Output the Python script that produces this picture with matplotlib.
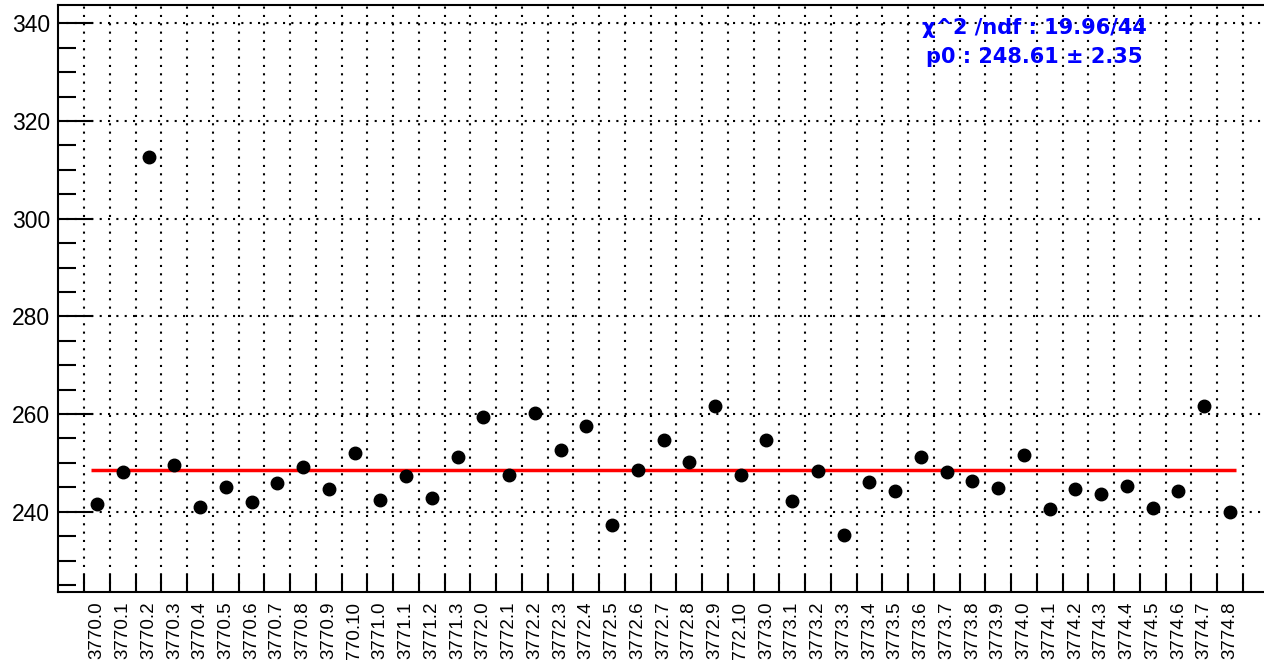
import matplotlib
matplotlib.use("Agg")
import matplotlib.pyplot as plt
import numpy as np

labels = ["3770.0", "3770.1", "3770.2", "3770.3", "3770.4", "3770.5", "3770.6", "3770.7",
          "3770.8", "3770.9", "3770.10", "3771.0", "3771.1", "3771.2", "3771.3",
          "3772.0", "3772.1", "3772.2", "3772.3", "3772.4", "3772.5", "3772.6", "3772.7",
          "3772.8", "3772.9", "3772.10", "3773.0", "3773.1", "3773.2", "3773.3", "3773.4",
          "3773.5", "3773.6", "3773.7", "3773.8", "3773.9", "3774.0", "3774.1", "3774.2",
          "3774.3", "3774.4", "3774.5", "3774.6", "3774.7", "3774.8"]
values = [241.6, 248.1, 312.6, 249.6, 241.0, 245.0, 242.0, 245.9, 249.1, 244.7, 252.0,
          242.4, 247.4, 242.9, 251.1, 259.3, 247.5, 260.3, 252.6, 257.5, 237.3, 248.5,
          254.6, 250.2, 261.6, 247.5, 254.7, 242.2, 248.4, 235.3, 246.1, 244.3, 251.2,
          248.1, 246.3, 244.9, 251.7, 240.6, 244.6, 243.6, 245.3, 240.7, 244.3, 261.6,
          239.9]
fit_p0 = 248.61
fit_err = 2.35
chi2 = 19.96
ndf = 44
y_major = [240, 260, 280, 300, 320, 340]

W, H = 1264, 660
fig = plt.figure(figsize=(W / 100, H / 100), dpi=100)
ax = fig.add_axes([58.5 / W, 68 / H, 1210 / W, 587 / H])

n = len(labels)
x = np.arange(n)
ax.plot(x, values, "o", color="black", ms=9, zorder=4)
ax.plot([-0.25, n - 1 + 0.25], [fit_p0, fit_p0], color="red", lw=2.5, zorder=3,
        solid_capstyle="butt")

ax.set_xlim(-1.5, n + 0.5)
ax.set_ylim(223.56, 343.75)

# x: major ticks at bin edges (no labels), labels at bin centres via minor ticks
ax.set_xticks(np.arange(n + 1) - 0.5)
ax.set_xticklabels([])
ax.set_xticks(x, minor=True)
ax.set_xticklabels(labels, minor=True, rotation=90, fontsize=13.5,
                   family="Liberation Sans", va="top", ha="center")
ax.tick_params(axis="x", which="major", direction="in", length=13, width=1.5)
ax.tick_params(axis="x", which="minor", length=0, pad=7)

ax.set_yticks(y_major)
ax.set_yticks(np.arange(225, 345, 5), minor=True)
ax.tick_params(axis="y", which="major", direction="in", length=25, width=1.5,
               labelsize=16.5, pad=6)
ax.tick_params(axis="y", which="minor", direction="in", length=13, width=1.5)
for lab in ax.get_yticklabels():
    lab.set_family("Liberation Sans")

ax.grid(True, which="major", axis="both", color="black",
        linestyle=(0, (1.0, 3.0)), lw=1.5, zorder=1)
ax.set_axisbelow(True)

for side in ["left", "bottom", "top", "right"]:
    ax.spines[side].set_linewidth(1.5)

fig.text(1034 / W, 1 - 34 / H, f"\u03c7^2 /ndf : {chi2:.2f}/{ndf}", ha="center",
         va="baseline", color="blue", fontweight="bold", family="DejaVu Sans",
         fontsize=15)
fig.text(1034 / W, 1 - 63 / H, f"p0 : {fit_p0:.2f} \u00b1 {fit_err:.2f}", ha="center",
         va="baseline", color="blue", fontweight="bold", family="DejaVu Sans",
         fontsize=15)

fig.savefig("out.png", dpi=100)
